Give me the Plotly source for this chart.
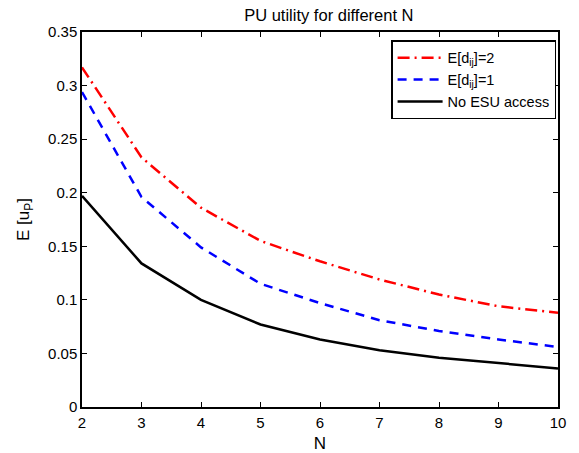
import plotly.graph_objects as go

N = [2, 3, 4, 5, 6, 7, 8, 9, 10]
u_d2 = [0.317, 0.233, 0.186, 0.155, 0.136, 0.119, 0.105, 0.094, 0.088]
u_d1 = [0.294, 0.196, 0.149, 0.115, 0.097, 0.081, 0.071, 0.063, 0.056]
u_no_esu = [0.197, 0.134, 0.100, 0.077, 0.063, 0.053, 0.046, 0.041, 0.036]

fig = go.Figure()
fig.add_trace(go.Scatter(x=N, y=u_d2, mode="lines", name="E[d<sub>ij</sub>]=2",
                         line=dict(color="#ff0000", width=2.5, dash="12px,5px,2px,5px")))
fig.add_trace(go.Scatter(x=N, y=u_d1, mode="lines", name="E[d<sub>ij</sub>]=1",
                         line=dict(color="#0000ff", width=2.5, dash="9px,7px")))
fig.add_trace(go.Scatter(x=N, y=u_no_esu, mode="lines", name="No ESU access",
                         line=dict(color="black", width=2.5)))

axis = dict(showline=True, linecolor="black", linewidth=1.5, mirror="ticks",
            ticks="inside", ticklen=5, tickcolor="black", showgrid=False,
            zeroline=False, automargin=False, tickfont=dict(size=15, color="black"))

fig.update_layout(
    width=579, height=453,
    margin=dict(l=82, r=21, t=32, b=46),
    paper_bgcolor="white", plot_bgcolor="white",
    font=dict(family="Liberation Sans, Arial", color="black"),
    title=dict(text="PU utility for different N", x=0.568, xanchor="center",
               yref="container", y=0.967, yanchor="middle", font=dict(size=16.5)),
    xaxis=dict(axis, range=[2, 10], dtick=1, ticklabelstandoff=1,
               title=dict(text="N", font=dict(size=17), standoff=9)),
    yaxis=dict(axis, range=[0, 0.35], dtick=0.05, tickformat="~g",
               title=dict(text="E [u<sub>P</sub>]", font=dict(size=17), standoff=14)),
    legend=dict(x=0.996, y=0.978, xanchor="right", yanchor="top",
                bordercolor="black", borderwidth=1.5, bgcolor="white",
                font=dict(size=14.5), tracegroupgap=0, itemwidth=45),
    showlegend=True,
)

# drop the default 8px page margin so the figure sits at the window corner
fig.write_html("out.html", config={"displayModeBar": False},
               post_script="document.body.style.margin='0';")
